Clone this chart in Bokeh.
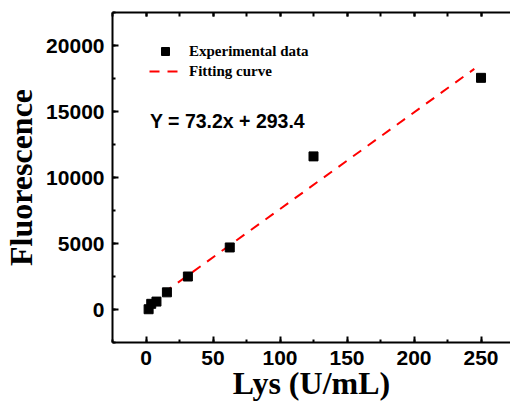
from bokeh.plotting import figure
from bokeh.models import (LinearAxis, SingleIntervalTicker, Range1d, Legend, LegendItem,
                          Label, ColumnDataSource, CustomLabelingPolicy)
from bokeh.embed import file_html
from bokeh.resources import INLINE

# ---- data ----
lys = [1.95, 3.9, 7.8, 15.6, 31.25, 62.5, 125, 250]
fluor = [20, 430, 600, 1300, 2500, 4700, 11600, 17550]
slope = 73.2
intercept = 293.4
fit_x = [2, 245]
fit_y = [slope * v + intercept for v in fit_x]
x_ticks_interval = 50
y_ticks_interval = 5000
x_start, x_end = -25, 272
y_start, y_end = -2500, 22500

SERIF = "Liberation Serif"
SANS = "Liberation Sans"

p = figure(width=510, height=404, output_backend="svg", toolbar_location=None,
           x_range=Range1d(x_start, x_end), y_range=Range1d(y_start, y_end),
           x_axis_location=None, y_axis_location=None,
           min_border_left=111, min_border_right=0, min_border_top=12, min_border_bottom=62)
p.outline_line_color = None
p.xgrid.visible = False
p.ygrid.visible = False
p.background_fill_color = "white"
p.border_fill_color = "white"

def style_axis(ax):
    ax.axis_line_width = 2
    ax.axis_line_color = "black"
    ax.major_tick_line_width = 2
    ax.minor_tick_line_width = 2
    ax.major_tick_in = 6
    ax.major_tick_out = 0
    ax.minor_tick_in = 3
    ax.minor_tick_out = 0
    ax.major_label_text_font = SANS
    ax.major_label_text_font_style = "bold"
    ax.major_label_text_color = "black"
    ax.major_label_text_font_size = "21px"
    ax.major_label_standoff = 8
    ax.axis_label_text_font = SERIF
    ax.axis_label_text_font_style = "bold"
    ax.axis_label_text_font_size = "32px"
    ax.axis_label_text_color = "black"

xax = LinearAxis(ticker=SingleIntervalTicker(interval=x_ticks_interval, num_minor_ticks=2))
style_axis(xax)
xax.axis_label = "Lys (U/mL)"
xax.axis_label_standoff = -3
p.add_layout(xax, "below")

yax = LinearAxis(ticker=SingleIntervalTicker(interval=y_ticks_interval, num_minor_ticks=2))
style_axis(yax)
yax.axis_label = "Fluorescence"
yax.axis_label_standoff = 4
p.add_layout(yax, "left")

# top border with inward ticks, no labels shown
tax = LinearAxis(ticker=SingleIntervalTicker(interval=x_ticks_interval, num_minor_ticks=2),
                 major_label_policy=CustomLabelingPolicy(code="return new Set()"))
style_axis(tax)
tax.major_tick_in = 4
tax.minor_tick_in = 4
tax.major_label_text_font_size = "1px"
tax.major_label_standoff = 0
p.add_layout(tax, "above")

src = ColumnDataSource(dict(x=lys, y=fluor))
fit_src = ColumnDataSource(dict(x=fit_x, y=fit_y))

line_r = p.line("x", "y", source=fit_src, line_color="#ff0000", line_width=2, line_dash="10 8")
pts_r = p.scatter("x", "y", source=src, marker="square", size=9, fill_color="black", line_color="black")

legend = Legend(items=[LegendItem(label="Experimental data", renderers=[pts_r]),
                       LegendItem(label="Fitting curve", renderers=[line_r])],
                location=(37, 261), glyph_width=32, glyph_height=20, label_height=20,
                label_standoff=8, spacing=0, padding=0, margin=0,
                border_line_color=None, background_fill_alpha=0,
                label_text_font=SERIF, label_text_font_style="bold",
                label_text_font_size="15px", label_text_color="black")
p.add_layout(legend, "center")

eq = Label(x=3, y=14250, text="Y = 73.2x + 293.4", text_font=SANS,
           text_font_style="bold", text_font_size="19.5px", text_baseline="middle",
           text_color="black")
p.add_layout(eq)

open("out.html", "w").write(file_html(p, INLINE))
